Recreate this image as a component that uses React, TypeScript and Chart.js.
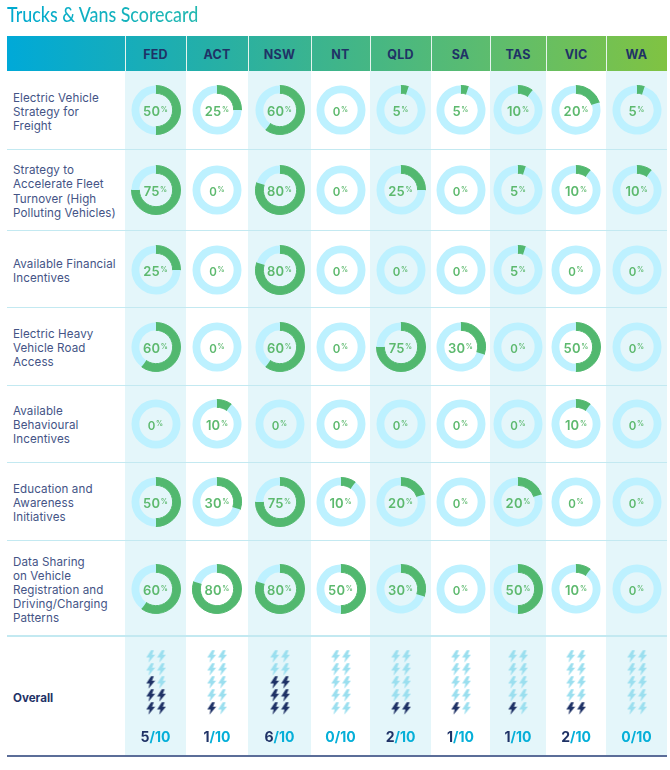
import { useEffect, useRef } from "react";
import { Chart, registerables } from "chart.js";

Chart.register(...registerables);

const jurisdictions = ["FED", "ACT", "NSW", "NT", "QLD", "SA", "TAS", "VIC", "WA"];

const policyLabels = [
  ["Electric Vehicle", "Strategy for", "Freight"],
  ["Strategy to", "Accelerate Fleet", "Turnover (High", "Polluting Vehicles)"],
  ["Available Financial", "Incentives"],
  ["Electric Heavy", "Vehicle Road", "Access"],
  ["Available", "Behavioural", "Incentives"],
  ["Education and", "Awareness", "Initiatives"],
  ["Data Sharing", "on Vehicle", "Registration and", "Driving/Charging", "Patterns"],
];

const evStrategy = [50, 25, 60, 0, 5, 5, 10, 20, 5];
const fleetTurnover = [75, 0, 80, 0, 25, 0, 5, 10, 10];
const financialIncentives = [25, 0, 80, 0, 0, 0, 5, 0, 0];
const roadAccess = [60, 0, 60, 0, 75, 30, 0, 50, 0];
const behaviouralIncentives = [0, 10, 0, 0, 0, 0, 0, 10, 0];
const education = [50, 30, 75, 10, 20, 0, 20, 0, 0];
const dataSharing = [60, 80, 80, 50, 30, 0, 50, 10, 0];
const overallScores = [5, 1, 6, 0, 2, 1, 1, 2, 0];

const policyRows = [evStrategy, fleetTurnover, financialIncentives, roadAccess, behaviouralIncentives, education, dataSharing];

const columnEdges = [125, 186, 248, 311, 370, 431, 490, 546, 606, 667];
const rowLines = [149.5, 230.5, 307.5, 385.5, 462.5, 540.5, 636];
const donutCentres = [110, 190, 269.5, 346.5, 424, 501.5, 588.5];
const labelCentres = [112, 191.5, 271, 348, 425, 503, 590];

const GREEN = "#52B86F";
const RING = "#BDF1FF";
const NAVY = "#1F3266";
const FONT = "Inter, 'Noto Sans', sans-serif";

function Donut({ value, cx, cy }: { value: number; cx: number; cy: number }) {
  const ref = useRef<HTMLCanvasElement>(null);

  useEffect(() => {
    if (!ref.current) return;
    const chart = new Chart(ref.current, {
      type: "doughnut",
      data: {
        datasets: [
          {
            data: [value, 100 - value],
            backgroundColor: [GREEN, RING],
            borderColor: [GREEN, RING],
            borderWidth: [value > 0 ? 1 : 0, 0],
          },
        ],
      },
      options: {
        responsive: false,
        animation: false,
        events: [],
        radius: 24.5,
        cutout: "68%",
        plugins: { legend: { display: false }, tooltip: { enabled: false } },
      },
    });
    return () => chart.destroy();
  }, [value]);

  return (
    <>
      <canvas ref={ref} width={56} height={56} style={{ position: "absolute", left: cx - 28, top: cy - 28, width: 56, height: 56 }} />
      <div
        style={{
          position: "absolute",
          left: cx - 25,
          top: cy - 10,
          width: 50,
          height: 20,
          lineHeight: "20px",
          textAlign: "center",
          fontFamily: FONT,
          fontWeight: 600,
          fontSize: value === 0 ? 11.5 : 13,
          letterSpacing: 0.2,
          color: "#5DB96E",
        }}
      >
        {value}
        <span style={{ fontSize: 7, verticalAlign: 4, marginLeft: 0.5 }}>%</span>
      </div>
    </>
  );
}

function makeBolt(color: string) {
  const c = document.createElement("canvas");
  c.width = 10;
  c.height = 13;
  const ctx = c.getContext("2d");
  if (ctx) {
    ctx.fillStyle = color;
    ctx.beginPath();
    ctx.moveTo(5.4, 0.3);
    ctx.lineTo(8.2, 0.3);
    ctx.lineTo(6.4, 4.8);
    ctx.lineTo(9.5, 4.8);
    ctx.lineTo(2.8, 12.8);
    ctx.lineTo(4, 7.5);
    ctx.lineTo(0.7, 7.5);
    ctx.closePath();
    ctx.fill();
  }
  return c;
}

function Bolts({ score, cx }: { score: number; cx: number }) {
  const ref = useRef<HTMLCanvasElement>(null);

  useEffect(() => {
    if (!ref.current) return;
    const lit = makeBolt(NAVY);
    const unlit = makeBolt("#9BDFEF");
    // two bolts per mark, filled from the bottom row, left one first
    const marks: { x: number; y: number }[] = [];
    const styles: HTMLCanvasElement[] = [];
    for (let i = 0; i < 10; i++) {
      marks.push({ x: i % 2, y: Math.floor(i / 2) });
      styles.push(i < score ? lit : unlit);
    }
    const chart = new Chart(ref.current, {
      type: "scatter",
      data: { datasets: [{ data: marks, pointStyle: styles }] },
      options: {
        responsive: false,
        animation: false,
        events: [],
        layout: { autoPadding: false, padding: 0 },
        scales: {
          x: { display: false, min: -2, max: 3, ticks: { stepSize: 1 } },
          y: { display: false, min: -0.5, max: 4.5, ticks: { stepSize: 0.5 } },
        },
        plugins: { legend: { display: false }, tooltip: { enabled: false } },
      },
    });
    return () => chart.destroy();
  }, [score]);

  return <canvas ref={ref} width={54} height={65} style={{ position: "absolute", left: cx - 27, top: 650, width: 54, height: 65 }} />;
}

export default function App() {
  const centres = columnEdges.slice(0, -1).map((e, i) => (e + columnEdges[i + 1]) / 2);

  return (
    <div style={{ position: "absolute", left: 0, top: 0, width: 670, height: 770, background: "#fff", overflow: "hidden", fontFamily: FONT }}>
      <div
        style={{
          position: "absolute",
          left: 7,
          top: 1,
          fontFamily: "Lato, sans-serif",
          fontSize: 20.5,
          lineHeight: "26px",
          fontWeight: 500,
          whiteSpace: "nowrap",
          transform: "scaleX(0.87)",
          transformOrigin: "left center",
          background: "linear-gradient(90deg, #00A9D0, #22B8B0)",
          WebkitBackgroundClip: "text",
          backgroundClip: "text",
          color: "transparent",
        }}
      >
        Trucks &amp; Vans Scorecard
      </div>

      {/* shaded columns */}
      {centres.map((_, i) =>
        i % 2 === 0 ? (
          <div key={i} style={{ position: "absolute", left: columnEdges[i], width: columnEdges[i + 1] - columnEdges[i], top: 71, height: 685, background: "#E4F6FA" }} />
        ) : null
      )}

      {/* header band */}
      <div style={{ position: "absolute", left: 7, top: 36, width: 660, height: 35, background: "linear-gradient(90deg, #00A9D8, #24AFA8 30%, #3FB58A 50%, #5FBD6C 75%, #80C342)" }} />
      {columnEdges.slice(0, -1).map((e) => (
        <div key={e} style={{ position: "absolute", left: e - 0.5, top: 36, width: 1, height: 35, background: "#E6F4EE" }} />
      ))}
      {jurisdictions.map((name, i) => (
        <div
          key={name}
          style={{
            position: "absolute",
            left: columnEdges[i],
            width: columnEdges[i + 1] - columnEdges[i],
            top: 36,
            height: 38,
            lineHeight: "38px",
            textAlign: "center",
            fontWeight: 700,
            fontSize: 12.5,
            letterSpacing: 0.2,
            color: NAVY,
          }}
        >
          {name}
        </div>
      ))}

      {/* row rules */}
      {rowLines.map((y) => (
        <div key={y} style={{ position: "absolute", left: 7, width: 660, top: y - 0.75, height: 1.5, background: "#C3E9F1" }} />
      ))}
      <div style={{ position: "absolute", left: 7, width: 660, top: 755, height: 1.5, background: "#5B6D98" }} />

      {/* row labels */}
      {policyLabels.map((lines, r) => (
        <div
          key={r}
          style={{
            position: "absolute",
            left: 13,
            top: labelCentres[r] - (lines.length * 14.2) / 2,
            fontSize: 11.6,
            letterSpacing: 0.1,
            lineHeight: "14.2px",
            color: "#445486",
            whiteSpace: "nowrap",
          }}
        >
          {lines.map((line) => (
            <div key={line}>{line}</div>
          ))}
        </div>
      ))}
      <div style={{ position: "absolute", left: 13, top: 691, fontSize: 11.6, lineHeight: "14px", fontWeight: 700, color: NAVY }}>Overall</div>

      {/* scorecard donuts */}
      {policyRows.map((row, r) =>
        row.map((value, c) => <Donut key={`${r}-${c}`} value={value} cx={centres[c]} cy={donutCentres[r]} />)
      )}

      {/* overall */}
      {overallScores.map((score, c) => (
        <div key={c}>
          <Bolts score={score} cx={centres[c]} />
          <div
            style={{
              position: "absolute",
              left: columnEdges[c],
              width: columnEdges[c + 1] - columnEdges[c],
              top: 727,
              lineHeight: "20px",
              textAlign: "center",
              fontWeight: 700,
              fontSize: 14,
              color: "#05AFD8",
            }}
          >
            <span style={{ color: score > 0 ? NAVY : "#05AFD8" }}>{score}</span>/10
          </div>
        </div>
      ))}
    </div>
  );
}
